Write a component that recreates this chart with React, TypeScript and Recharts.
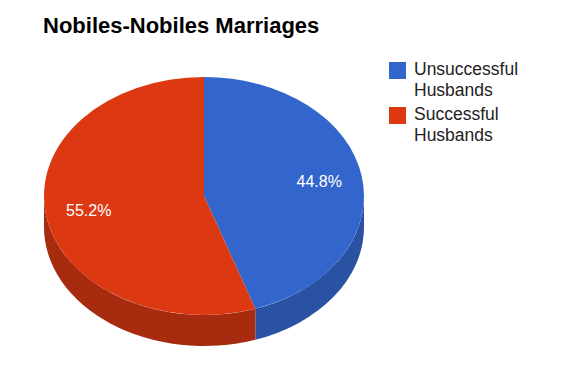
import { PieChart, Pie, Cell, Legend } from 'recharts';

const categories = ['Unsuccessful Husbands', 'Successful Husbands'];
const shares = [44.8, 55.2];
const topColors = ['#3366cc', '#dc3912'];
const sideColors = ['#2a52a3', '#a62b0f'];

const FONT = 'Arial, "Liberation Sans", sans-serif';
const TILT = 0.744; // ry / rx of the flattened pie
const DEPTH = 31;
const RAD = Math.PI / 180;

const data = categories.map((name, i) => ({ name, value: shares[i] }));

function pt(cx: number, cy: number, rx: number, ry: number, a: number) {
  return [cx + rx * Math.cos(-a * RAD), cy + ry * Math.sin(-a * RAD)];
}

// top face: elliptical sector
function TopSlice(props: any) {
  const { cx, cy, outerRadius, startAngle, endAngle, fill } = props;
  const rx = outerRadius;
  const ry = outerRadius * TILT;
  const [x1, y1] = pt(cx, cy, rx, ry, startAngle);
  const [x2, y2] = pt(cx, cy, rx, ry, endAngle);
  const large = Math.abs(endAngle - startAngle) > 180 ? 1 : 0;
  const sweep = endAngle < startAngle ? 1 : 0;
  return (
    <path
      d={`M${cx},${cy} L${x1},${y1} A${rx},${ry} 0 ${large} ${sweep} ${x2},${y2} Z`}
      fill={fill}
    />
  );
}

// side wall: only the part of the slice on the front half
function SideSlice(props: any) {
  const { cx, cy, outerRadius, startAngle, endAngle, fill } = props;
  const rx = outerRadius;
  const ry = outerRadius * TILT;
  const lo = Math.min(startAngle, endAngle);
  const hi = Math.max(startAngle, endAngle);
  const parts: number[][] = [];
  for (const [fLo, fHi] of [[-180, 0], [180, 360], [-540, -360]]) {
    const a = Math.max(lo, fLo);
    const b = Math.min(hi, fHi);
    if (b > a) parts.push([a, b]);
  }
  return (
    <g>
      {parts.map(([a, b], i) => {
        const [xa, ya] = pt(cx, cy, rx, ry, a);
        const [xb, yb] = pt(cx, cy, rx, ry, b);
        const d =
          `M${xa},${ya} A${rx},${ry} 0 0 0 ${xb},${yb} ` +
          `L${xb},${yb + DEPTH} A${rx},${ry} 0 0 1 ${xa},${ya + DEPTH} Z`;
        return <path key={i} d={d} fill={fill} />;
      })}
    </g>
  );
}

const renderLabel = (props: any) => {
  const { cx, cy, midAngle, outerRadius, percent } = props;
  const k = 0.73;
  const [x, y] = pt(cx, cy, outerRadius * k, outerRadius * TILT * k, midAngle);
  return (
    <text
      x={x}
      y={y}
      fill="#ffffff"
      fontSize={16}
      fontFamily={FONT}
      textAnchor="middle"
      dominantBaseline="central"
    >
      {(percent * 100).toFixed(1)}%
    </text>
  );
};

const renderLegend = () => (
  <div style={{ fontFamily: FONT, fontSize: 17.5, color: '#222' }}>
    {categories.map((name, i) => (
      <div key={name} style={{ display: 'flex', alignItems: 'flex-start', marginBottom: 3 }}>
        <div
          style={{
            width: 17,
            height: 17,
            marginTop: 3,
            marginRight: 8,
            background: topColors[i],
            flexShrink: 0,
          }}
        />
        <div style={{ width: 130, lineHeight: '21px' }}>{name}</div>
      </div>
    ))}
  </div>
);

export default function App() {
  return (
    <div
      style={{
        position: 'absolute',
        left: 0,
        top: 0,
        width: 569,
        height: 365,
        background: '#fff',
        fontFamily: FONT,
      }}
    >
      <div
        style={{
          position: 'absolute',
          left: 43,
          top: 13,
          fontSize: 22,
          lineHeight: '25px',
          fontWeight: 'bold',
          color: '#000',
          zIndex: 2,
        }}
      >
        Nobiles-Nobiles Marriages
      </div>
      <PieChart width={569} height={365} margin={{ top: 0, right: 0, bottom: 0, left: 0 }}>
        <Pie
          data={data}
          dataKey="value"
          nameKey="name"
          cx={204}
          cy={196}
          outerRadius={160}
          startAngle={90}
          endAngle={-270}
          legendType="none"
          label={false}
          labelLine={false}
          shape={SideSlice}
          activeShape={SideSlice}
          inactiveShape={SideSlice}
          isAnimationActive={false}
        >
          {data.map((d, i) => (
            <Cell key={d.name} fill={sideColors[i]} />
          ))}
        </Pie>
        <Pie
          data={data}
          dataKey="value"
          nameKey="name"
          cx={204}
          cy={196}
          outerRadius={160}
          startAngle={90}
          endAngle={-270}
          label={renderLabel}
          labelLine={false}
          shape={TopSlice}
          activeShape={TopSlice}
          inactiveShape={TopSlice}
          isAnimationActive={false}
        >
          {data.map((d, i) => (
            <Cell key={d.name} fill={topColors[i]} />
          ))}
        </Pie>
        <Legend
          layout="vertical"
          align="right"
          verticalAlign="top"
          content={renderLegend}
          wrapperStyle={{ left: 389, top: 59, width: 170 }}
        />
      </PieChart>
    </div>
  );
}
